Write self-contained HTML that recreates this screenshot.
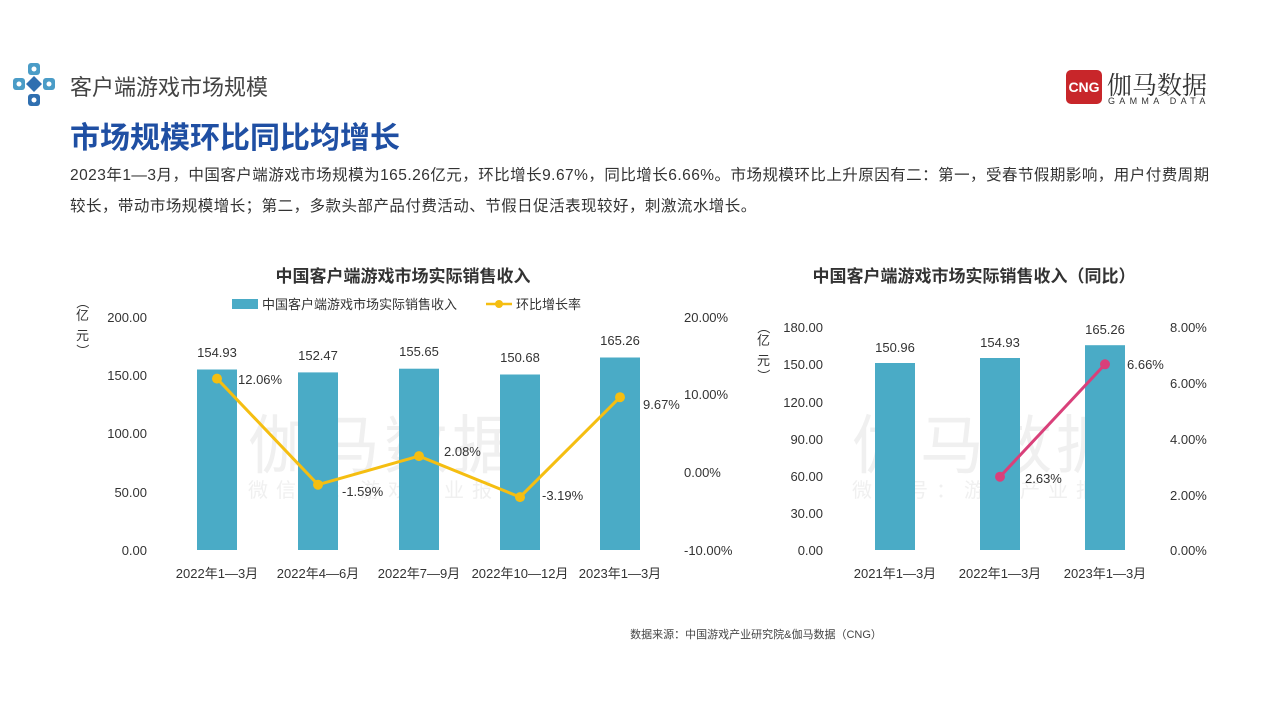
<!DOCTYPE html>
<html><head><meta charset="utf-8"><style>
body{margin:0;width:1280px;height:720px;background:#fff;overflow:hidden;font-family:"Liberation Sans","Noto Sans CJK SC",sans-serif;position:relative}
.a{position:absolute;white-space:nowrap}
</style></head><body>
<svg class="a" style="left:12px;top:62px" width="46" height="46" viewBox="0 0 46 46">
<rect x="16" y="1" width="12" height="12" rx="3" fill="#4a9cc7"/><circle cx="22" cy="7" r="2.5" fill="#fff"/>
<rect x="16" y="32" width="12" height="12" rx="3" fill="#2f6fb0"/><circle cx="22" cy="38" r="2.5" fill="#fff"/>
<rect x="1" y="16" width="12" height="12" rx="3" fill="#4a9cc7"/><circle cx="7" cy="22" r="2.5" fill="#fff"/>
<rect x="31" y="16" width="12" height="12" rx="3" fill="#4a9cc7"/><circle cx="37" cy="22" r="2.5" fill="#fff"/>
<path d="M22 14 L30 22 L22 30 L14 22Z" fill="#2f6fb0"/>
</svg>
<div class="a" style="left:70px;top:70px;font-size:22px;color:#444">客户端游戏市场规模</div>
<div class="a" style="left:70px;top:113px;font-size:30px;font-weight:bold;color:#1f4fa3">市场规模环比同比均增长</div>
<div class="a" style="left:1066px;top:70px;width:36px;height:34px;background:#c8262a;border-radius:5px;color:#fff;font-weight:bold;font-size:14px;line-height:34px;text-align:center">CNG</div>
<div class="a" style="left:1107px;top:66px;font-size:25px;color:#333;font-family:'Noto Serif CJK SC',serif">伽马数据</div>
<div class="a" style="left:1108px;top:96px;font-size:9px;color:#333;letter-spacing:4.3px">GAMMA DATA</div>
<div class="a" style="left:70px;top:160px;font-size:15.5px;color:#333;line-height:31px;letter-spacing:0.47px">2023年1—3月，中国客户端游戏市场规模为165.26亿元，环比增长9.67%，同比增长6.66%。市场规模环比上升原因有二：第一，受春节假期影响，用户付费周期<br>较长，带动市场规模增长；第二，多款头部产品付费活动、节假日促活表现较好，刺激流水增长。</div>
<div class="a" style="left:248px;top:395px;font-size:64px;color:#f0f0f0;letter-spacing:4px">伽马数据</div>
<div class="a" style="left:248px;top:474px;font-size:20px;color:#f0f0f0;letter-spacing:8px">微信号：游戏产业报告</div>
<div class="a" style="left:852px;top:395px;font-size:64px;color:#f0f0f0;letter-spacing:4px">伽马数据</div>
<div class="a" style="left:852px;top:474px;font-size:20px;color:#f0f0f0;letter-spacing:8px">微信号：游戏产业报告</div>
<svg class="a" style="left:0;top:0" width="1280" height="720" font-family="Liberation Sans,Noto Sans CJK SC,sans-serif" font-size="13" fill="#333">
<text x="403" y="282" text-anchor="middle" font-size="17" font-weight="bold">中国客户端游戏市场实际销售收入</text>
<rect x="232" y="299" width="26" height="10" fill="#4aabc6"/><text x="262" y="309">中国客户端游戏市场实际销售收入</text>
<line x1="486" y1="304" x2="512" y2="304" stroke="#f5be11" stroke-width="2.5"/><circle cx="499" cy="304" r="4" fill="#f5be11"/><text x="516" y="309">环比增长率</text>
<g font-size="13"><text transform="translate(78,296) rotate(90)">（</text><text x="76" y="320">亿</text><text x="76" y="340">元</text><text transform="translate(78,344) rotate(90)">）</text>
<g text-anchor="end"><text x="147" y="322">200.00</text><text x="147" y="380">150.00</text><text x="147" y="438">100.00</text><text x="147" y="497">50.00</text><text x="147" y="555">0.00</text></g>
<g><text x="684" y="322">20.00%</text><text x="684" y="399">10.00%</text><text x="684" y="477">0.00%</text><text x="684" y="555">-10.00%</text></g></g>
<g fill="#4aabc6"><rect x="197" y="369.5" width="40" height="180.5"/><rect x="298" y="372.4" width="40" height="177.6"/><rect x="399" y="368.7" width="40" height="181.3"/><rect x="500" y="374.5" width="40" height="175.5"/><rect x="600" y="357.5" width="40" height="192.5"/></g>
<g text-anchor="middle"><text x="217" y="357">154.93</text><text x="318" y="360">152.47</text><text x="419" y="356">155.65</text><text x="520" y="362">150.68</text><text x="620" y="345">165.26</text>
<text x="217" y="578">2022年1—3月</text><text x="318" y="578">2022年4—6月</text><text x="419" y="578">2022年7—9月</text><text x="520" y="578">2022年10—12月</text><text x="620" y="578">2023年1—3月</text></g>
<polyline points="217,378.6 318,484.7 419,456.1 520,497.1 620,397.2" fill="none" stroke="#f5be11" stroke-width="3"/>
<g fill="#f5be11"><circle cx="217" cy="378.6" r="5"/><circle cx="318" cy="484.7" r="5"/><circle cx="419" cy="456.1" r="5"/><circle cx="520" cy="497.1" r="5"/><circle cx="620" cy="397.2" r="5"/></g>
<text x="238" y="384">12.06%</text><text x="342" y="496">-1.59%</text><text x="444" y="456">2.08%</text><text x="542" y="500">-3.19%</text><text x="643" y="409">9.67%</text>
<text x="974" y="282" text-anchor="middle" font-size="17" font-weight="bold">中国客户端游戏市场实际销售收入（同比）</text>
<text transform="translate(759,321) rotate(90)">（</text><text x="757" y="345">亿</text><text x="757" y="365">元</text><text transform="translate(759,369) rotate(90)">）</text>
<g text-anchor="end"><text x="823" y="332">180.00</text><text x="823" y="369">150.00</text><text x="823" y="407">120.00</text><text x="823" y="444">90.00</text><text x="823" y="481">60.00</text><text x="823" y="518">30.00</text><text x="823" y="555">0.00</text></g>
<text x="1170" y="332">8.00%</text><text x="1170" y="388">6.00%</text><text x="1170" y="444">4.00%</text><text x="1170" y="500">2.00%</text><text x="1170" y="555">0.00%</text>
<g fill="#4aabc6"><rect x="875" y="363" width="40" height="187"/><rect x="980" y="358" width="40" height="192"/><rect x="1085" y="345.2" width="40" height="204.8"/></g>
<g text-anchor="middle"><text x="895" y="352">150.96</text><text x="1000" y="347">154.93</text><text x="1105" y="334">165.26</text>
<text x="895" y="578">2021年1—3月</text><text x="1000" y="578">2022年1—3月</text><text x="1105" y="578">2023年1—3月</text></g>
<line x1="1000" y1="476.7" x2="1105" y2="364.3" stroke="#d9407a" stroke-width="3"/>
<circle cx="1000" cy="476.7" r="5" fill="#d9407a"/><circle cx="1105" cy="364.3" r="5" fill="#d9407a"/>
<text x="1025" y="483">2.63%</text><text x="1127" y="369">6.66%</text>
<text x="756" y="638" text-anchor="middle" font-size="11" fill="#444">数据来源：中国游戏产业研究院&amp;伽马数据（CNG）</text>
</svg>
</body></html>
